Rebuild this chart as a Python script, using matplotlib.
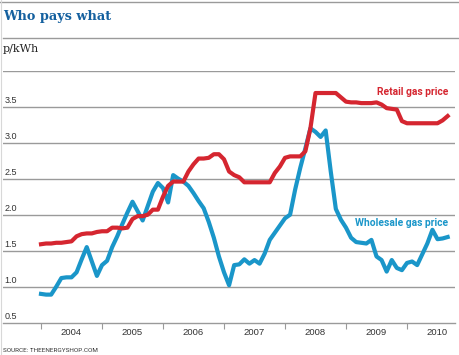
import matplotlib
matplotlib.use('Agg')
import matplotlib.pyplot as plt
import numpy as np

# Monthly prices, Jan 2004 - Sep 2010 (p/kWh)
wholesale = [0.90, 0.89, 0.89, 1.00, 1.12, 1.13, 1.13, 1.20, 1.38, 1.55, 1.35, 1.15,
             1.30, 1.36, 1.55, 1.70, 1.87, 2.03, 2.18, 2.05, 1.92, 2.12, 2.32, 2.44,
             2.37, 2.17, 2.55, 2.50, 2.46, 2.40, 2.30, 2.19, 2.09, 1.90, 1.68, 1.42,
             1.20, 1.02, 1.30, 1.31, 1.38, 1.32, 1.37, 1.32, 1.46, 1.65, 1.75, 1.85,
             1.95, 2.00, 2.35, 2.65, 2.92, 3.20, 3.15, 3.08, 3.17, 2.60, 2.08, 1.93,
             1.82, 1.68, 1.62, 1.61, 1.60, 1.65, 1.42, 1.37, 1.21, 1.37, 1.26, 1.23,
             1.33, 1.35, 1.30, 1.45, 1.60, 1.79, 1.66, 1.67, 1.69]
retail = [1.59, 1.60, 1.60, 1.61, 1.61, 1.62, 1.63, 1.70, 1.73, 1.74, 1.74, 1.76,
          1.77, 1.77, 1.82, 1.82, 1.81, 1.82, 1.94, 1.98, 1.98, 2.00, 2.07, 2.07,
          2.25, 2.40, 2.46, 2.46, 2.46, 2.60, 2.70, 2.78, 2.78, 2.79, 2.84, 2.84,
          2.77, 2.60, 2.55, 2.52, 2.45, 2.45, 2.45, 2.45, 2.45, 2.45, 2.58, 2.67,
          2.79, 2.81, 2.81, 2.81, 2.88, 3.20, 3.69, 3.69, 3.69, 3.69, 3.69, 3.63,
          3.57, 3.56, 3.56, 3.55, 3.55, 3.55, 3.56, 3.53, 3.48, 3.47, 3.46, 3.30,
          3.27, 3.27, 3.27, 3.27, 3.27, 3.27, 3.27, 3.31, 3.37]
years = [2004, 2005, 2006, 2007, 2008, 2009, 2010]
y_ticks = [0.5, 1.0, 1.5, 2.0, 2.5, 3.0, 3.5]

start_year = 2004
t = start_year + np.arange(len(retail)) / 12.0

BLUE = '#1a96c9'
RED = '#d52630'
GRID = '#9a9a9a'
TXT = '#333333'
LABEL_FONT = ['Roboto', 'DejaVu Sans']

fig = plt.figure(figsize=(4.6, 3.55), dpi=100)
ax = fig.add_axes([3 / 460, 32.3 / 355, 452 / 460, 252 / 355])

ax.plot(t, wholesale, color=BLUE, lw=3.0, zorder=3, solid_joinstyle='round')
ax.plot(t, retail, color=RED, lw=3.0, zorder=4, solid_joinstyle='round')

ax.set_xlim(2004 - 38 / 61, 2004 + 414 / 61)
ax.set_ylim(0.5, 4.0)

# gridlines
for v in y_ticks[1:] + [4.0]:
    ax.axhline(v, color=GRID, lw=1.0, zorder=1)
for s in ['top', 'right', 'left']:
    ax.spines[s].set_visible(False)
ax.spines['bottom'].set_color(GRID)
ax.spines['bottom'].set_linewidth(1.0)

# y labels sitting on the gridlines
ax.set_yticks([])
for v in y_ticks:
    ax.text(0.004, v + 0.03, f'{v:.1f}', transform=ax.get_yaxis_transform(),
            ha='left', va='bottom', fontsize=6.5, color=TXT, family='Liberation Sans')

# x ticks at year boundaries, labels centred between
ax.set_xticks(years)
ax.set_xticklabels([])
ax.tick_params(axis='x', length=4, width=0.8, color=GRID, direction='out')
for y in years:
    ax.text(y + 0.5, -0.02, str(y), transform=ax.get_xaxis_transform(),
            ha='center', va='top', fontsize=6.8, color=TXT, family='Liberation Sans')

# series labels
ax.text(2004 + 407 / 61, 3.64, 'Retail gas price', color=RED, fontsize=7.4,
        fontweight='bold', ha='right', va='bottom', family=LABEL_FONT)
ax.text(2004 + 407 / 61, 1.82, 'Wholesale gas price', color=BLUE, fontsize=7.4,
        fontweight='bold', ha='right', va='bottom', family=LABEL_FONT)

# header rules and texts
fig.add_artist(plt.Line2D([0, 1], [1 - 2 / 355] * 2, color=GRID, lw=1.0))
fig.add_artist(plt.Line2D([3 / 460, 1], [1 - 38 / 355] * 2, color=GRID, lw=1.0))
fig.add_artist(plt.Line2D([1 / 460] * 2, [0, 1], color='#d8d8d8', lw=0.8))
fig.text(3 / 460, 1 - 20 / 355, 'Who pays what', color='#14609f', fontsize=9.3,
         fontweight='bold', family='DejaVu Serif', ha='left', va='baseline')
fig.text(3 / 460, 1 - 52 / 355, 'p/kWh', color='#222222', fontsize=8,
         family='DejaVu Serif', ha='left', va='baseline')
fig.text(3 / 460, 1 - 352 / 355, 'SOURCE: THEENERGYSHOP.COM', color=TXT,
         fontsize=4.6, family=LABEL_FONT, ha='left', va='baseline')

fig.savefig('out.png', dpi=100)
